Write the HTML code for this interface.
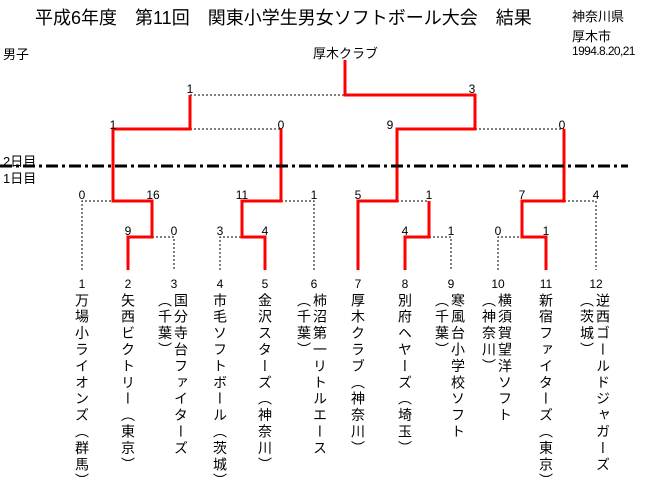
<!DOCTYPE html>
<html><head><meta charset="utf-8"><style>
body{margin:0;background:#fff;}
#c{position:relative;width:658px;height:501px;overflow:hidden;font-family:"Liberation Sans","Noto Sans CJK JP",sans-serif;color:#000;}
.t{position:absolute;white-space:nowrap;}
.n{position:absolute;font-size:12px;line-height:12px;width:30px;text-align:center;}
.v{position:absolute;writing-mode:vertical-rl;font-size:14px;line-height:14px;letter-spacing:2.4px;top:293px;white-space:nowrap;}
</style></head><body><div id="c">
<svg width="658" height="501" style="position:absolute;left:0;top:0">
<g stroke="#000" stroke-width="1" stroke-dasharray="2,2" fill="none">
<path d="M82 270V201H113"/>
<path d="M152 237H174V270"/>
<path d="M220 270V237H242"/>
<path d="M281 201H314V270"/>
<path d="M397 201H429V237H451V270"/>
<path d="M498 270V237H522"/>
<path d="M564 201H596V270"/>
<path d="M190 129H281"/>
<path d="M475 129H564"/>
<path d="M190 95H345"/>
</g>
<g stroke="#f00" stroke-width="3" fill="none">
<path d="M128 270V237H152V201H113V129H190V95"/>
<path d="M265 270V237H242V201H281V129"/>
<path d="M358 270V201H397V129H475V95H345V60"/>
<path d="M405 270V237H429V201"/>
<path d="M546 270V237H522V201H564V129"/>
</g>
<path d="M0 166H628" stroke="#000" stroke-width="3" stroke-dasharray="12,4,3,4" fill="none"/>
</svg>
<div class="t" style="left:35px;top:4px;font-size:18px;">平成6年度　第11回　関東小学生男女ソフトボール大会　結果</div>
<div class="t" style="left:572px;top:6px;font-size:13px;">神奈川県</div>
<div class="t" style="left:572px;top:26px;font-size:13px;">厚木市</div>
<div class="t" style="left:572px;top:44px;font-size:12px;letter-spacing:-0.6px">1994.8.20,21</div>
<div class="t" style="left:3px;top:44px;font-size:13px;">男子</div>
<div class="t" style="left:313px;top:43px;font-size:13px;">厚木クラブ</div>
<div class="t" style="left:3px;top:151px;font-size:13px;">2日目</div>
<div class="t" style="left:3px;top:168px;font-size:13px;">1日目</div>

<div class="n" style="left:175px;top:83px">1</div>
<div class="n" style="left:457px;top:83px">3</div>
<div class="n" style="left:98px;top:119px">1</div>
<div class="n" style="left:266px;top:119px">0</div>
<div class="n" style="left:375px;top:119px">9</div>
<div class="n" style="left:547px;top:119px">0</div>
<div class="n" style="left:67px;top:189px">0</div>
<div class="n" style="left:138px;top:189px">16</div>
<div class="n" style="left:227px;top:189px">11</div>
<div class="n" style="left:299px;top:189px">1</div>
<div class="n" style="left:343px;top:189px">5</div>
<div class="n" style="left:414px;top:189px">1</div>
<div class="n" style="left:507px;top:189px">7</div>
<div class="n" style="left:581px;top:189px">4</div>
<div class="n" style="left:113px;top:225px">9</div>
<div class="n" style="left:159px;top:225px">0</div>
<div class="n" style="left:205px;top:225px">3</div>
<div class="n" style="left:250px;top:225px">4</div>
<div class="n" style="left:390px;top:225px">4</div>
<div class="n" style="left:436px;top:225px">1</div>
<div class="n" style="left:483px;top:225px">0</div>
<div class="n" style="left:531px;top:225px">1</div>

<div class="n" style="left:67px;top:278px">1</div>
<div class="n" style="left:113px;top:278px">2</div>
<div class="n" style="left:159px;top:278px">3</div>
<div class="n" style="left:205px;top:278px">4</div>
<div class="n" style="left:250px;top:278px">5</div>
<div class="n" style="left:299px;top:278px">6</div>
<div class="n" style="left:343px;top:278px">7</div>
<div class="n" style="left:390px;top:278px">8</div>
<div class="n" style="left:436px;top:278px">9</div>
<div class="n" style="left:483px;top:278px">10</div>
<div class="n" style="left:531px;top:278px">11</div>
<div class="n" style="left:581px;top:278px">12</div>

<div class="v" style="left:75px">万場小ライオンズ（群馬）</div>
<div class="v" style="left:121px">矢西ビクトリー（東京）</div>
<div class="v" style="left:174px">国分寺台ファイターズ</div>
<div class="v" style="left:158px">（千葉）</div>
<div class="v" style="left:213px">市毛ソフトボール（茨城）</div>
<div class="v" style="left:258px">金沢スターズ（神奈川）</div>
<div class="v" style="left:313px">柿沼第一リトルエース</div>
<div class="v" style="left:297px">（千葉）</div>
<div class="v" style="left:351px">厚木クラブ（神奈川）</div>
<div class="v" style="left:398px">別府ヘヤーズ（埼玉）</div>
<div class="v" style="left:451px">寒風台小学校ソフト</div>
<div class="v" style="left:435px">（千葉）</div>
<div class="v" style="left:498px">横須賀望洋ソフト</div>
<div class="v" style="left:482px">（神奈川）</div>
<div class="v" style="left:539px">新宿ファイターズ（東京）</div>
<div class="v" style="left:596px">逆西ゴールドジャガーズ</div>
<div class="v" style="left:580px">（茨城）</div>
</div></body></html>
